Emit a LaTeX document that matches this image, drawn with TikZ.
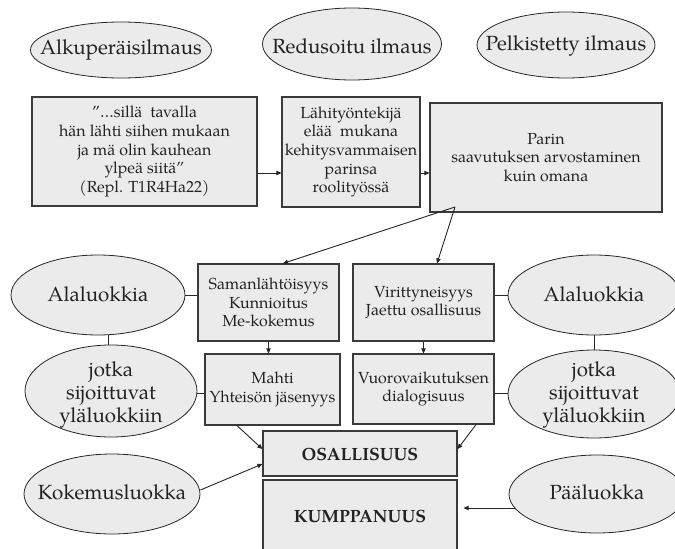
\documentclass[tikz,border=0pt]{standalone}
\usepackage{fontspec}
\setmainfont{texgyrepagella}[Extension=.otf, UprightFont=*-regular, BoldFont=*-bold, ItalicFont=*-italic, BoldItalicFont=*-bolditalic]
\usetikzlibrary{shapes.geometric,arrows.meta,calc}
\definecolor{boxfill}{HTML}{EBEBEB}
\definecolor{linec}{HTML}{3A3A3A}
\definecolor{textc}{HTML}{222222}
\tikzset{
  rbox/.style={draw=linec, fill=boxfill, line width=1.2pt, inner sep=0pt, align=center, text=textc,
    font=\fontsize{16}{18.7}\selectfont},
  oval/.style={ellipse, draw=black!85, fill=boxfill, line width=0.8pt, inner sep=0pt},
  ovaltext/.style={inner sep=0pt, align=center, text=textc, font=\fontsize{20.5}{23}\selectfont},
  boldtext/.style={inner sep=0pt, text=textc, font=\fontsize{17.7}{20}\selectfont\bfseries},
  conn/.style={draw=black!85, line width=0.9pt},
  arr/.style={conn, -{Triangle[length=5pt,width=4.5pt]}}
}
\begin{document}
\begin{tikzpicture}[x=1pt,y=-1pt]
\useasboundingbox (0,0) rectangle (675,549);
% top ellipses
\node[oval, minimum width=181pt, minimum height=56pt] (E1) at (121,50) {};
\node[ovaltext] (E1t) at (121,50) {Alkuperäisilmaus};
\node[oval, minimum width=179pt, minimum height=72pt] (E2) at (352,44) {};
\node[ovaltext] (E2t) at (352,46) {Redusoitu ilmaus};
\node[oval, minimum width=178pt, minimum height=66pt] (E3) at (566,45) {};
\node[ovaltext] (E3t) at (566,46) {Pelkistetty ilmaus};
% top boxes
\node[rbox, minimum width=225pt, minimum height=109pt] (B1) at (144.5,151.5)
  {”…sillä\ \ tavalla\\hän lähti siihen mukaan\\ja mä olin kauhean\\ylpeä siitä”\\(Repl. T1R4Ha22)};
\node[rbox, minimum width=138pt, minimum height=110pt] (B2) at (351,152)
  {Lähityöntekijä\\elää\ \ mukana\\kehitysvammaisen\\parinsa\\roolityössä};
\node[rbox, minimum width=232pt, minimum height=109pt] (B3) at (546,157.5)
  {Parin\\saavutuksen arvostaminen\\kuin omana};
% middle boxes
\node[rbox, minimum width=141pt, minimum height=77pt] (S) at (268.5,302.5)
  {Samanlähtöisyys\\Kunnioitus\\Me-kokemus};
\node[rbox, minimum width=141pt, minimum height=77pt] (V) at (423.5,302.5)
  {Virittyneisyys\\Jaettu osallisuus};
\node[rbox, minimum width=135pt, minimum height=71pt] (M) at (272.5,389.5)
  {Mahti\\Yhteisön jäsenyys};
\node[rbox, minimum width=141pt, minimum height=70pt] (VD) at (423.5,389)
  {Vuorovaikutuksen\\dialogisuus};
% bottom boxes
\node[rbox, minimum width=194pt, minimum height=45pt] (O) at (360,453.5) {};
\node[boldtext] (Ot) at (360,454) {OSALLISUUS};
\node[rbox, minimum width=194pt, minimum height=95pt] (K) at (360,527.5) {};
\node[boldtext] (Kt) at (360,516.5) {KUMPPANUUS};
% side ellipses
\node[oval, minimum width=174pt, minimum height=80pt] (AL) at (98,295) {};
\node[ovaltext] (ALt) at (98,294) {Alaluokkia};
\node[oval, minimum width=172pt, minimum height=92pt] (JL) at (111,391) {};
\node[ovaltext] (JLt) at (111,395) {jotka\\sijoittuvat\\yläluokkiin};
\node[oval, minimum width=172pt, minimum height=80pt] (AR) at (594,295) {};
\node[ovaltext] (ARt) at (594,294) {Alaluokkia};
\node[oval, minimum width=172pt, minimum height=88pt] (JR) at (594,394) {};
\node[ovaltext] (JRt) at (594,395) {jotka\\sijoittuvat\\yläluokkiin};
\node[oval, minimum width=176pt, minimum height=80pt] (KO) at (112,494) {};
\node[ovaltext] (KOt) at (112,492) {Kokemusluokka};
\node[oval, minimum width=176pt, minimum height=78pt] (PA) at (597,494) {};
\node[ovaltext] (PAt) at (597,492) {Pääluokka};
% connectors
\draw[arr] ([yshift=-21.5pt]B1.east) -- ([yshift=-21.5pt]B1.east -| B2.west);
\draw[arr] ([yshift=-21pt]B2.east) -- ([yshift=-21pt]B2.east -| B3.west);
\coordinate (fan) at (455,207);
\draw[arr] (fan) -- ([xshift=14.5pt]S.north);
\draw[arr] (fan) -- ([xshift=13.5pt]V.north);
\draw[arr] (S.south) -- (S.south |- M.north);
\draw[arr] (V.south) -- (V.south |- VD.north);
\draw[conn] (AL.east) -- (AL.east -| S.west);
\draw[conn] ([xshift=10pt]AL.south) -- ([xshift=10pt]AL.south |- JL.north);
\draw[conn] (JL.east |- 0,393) -- (M.west |- 0,393);
\draw[conn] (V.east |- AR.west) -- (AR.west);
\draw[conn] (AR.south) -- (AR.south |- JR.north);
\draw[conn] (VD.east |- 0,393) -- (JR.west |- 0,393);
\draw[arr] ([xshift=-35.5pt]M.south) -- ([yshift=4.5pt]O.west);
\draw[arr] ([xshift=52.5pt]VD.south) -- ([yshift=4.5pt]O.east);
\draw[arr] ([yshift=4pt]KO.east) -- ([yshift=-10.5pt]O.west);
\draw[arr] ([shift={(6pt,-14pt)}]PA.west) -- ([shift={(6pt,-14pt)}]PA.west -| K.east);
\end{tikzpicture}
\end{document}
